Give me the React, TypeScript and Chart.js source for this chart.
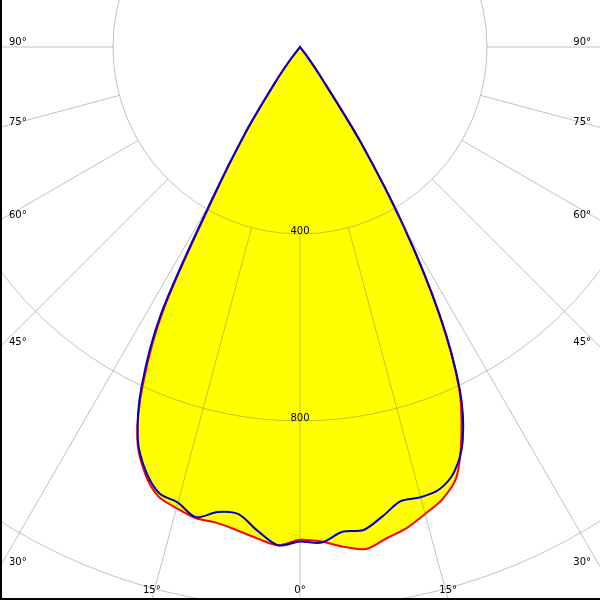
import React, { useEffect, useRef } from 'react';
import { Chart, registerables } from 'chart.js';

Chart.register(...registerables);

// Gamma angles (degrees from straight down) at which intensities were read
const GAMMA_DEG = [
  0, 2.5, 5, 7.5, 10, 12.5, 15, 17.5, 20, 22.5, 25, 27.5, 30, 32.5, 35, 37.5, 40,
  42.5, 45, 47.5, 50, 52.5, 55, 57.5, 60, 62.5, 65, 67.5, 70, 72.5, 75, 77.5, 80,
  82.5, 85, 87.5, 90,
];

// Red curve (C0 - C180 plane), cd
const RED_C180 = [
  1054, 1067, 1055, 1042, 1033, 1032, 1021, 1008, 970, 909, 795, 630, 365, 212, 92, 33, 0,
  0, 0, 0, 0, 0, 0, 0, 0, 0, 0, 0, 0, 0, 0, 0, 0, 0, 0, 0, 0,
];
const RED_C0 = [
  1054, 1059, 1073, 1083, 1067, 1054, 1034, 1014, 979, 902, 805, 645, 445, 240, 75, 22, 0,
  0, 0, 0, 0, 0, 0, 0, 0, 0, 0, 0, 0, 0, 0, 0, 0, 0, 0, 0, 0,
];

// Blue curve (C90 - C270 plane), cd
const BLUE_C270 = [
  1058, 1067, 1039, 1008, 1010, 1030, 1009, 1001, 965, 907, 802, 644, 378, 218, 95, 35, 0,
  0, 0, 0, 0, 0, 0, 0, 0, 0, 0, 0, 0, 0, 0, 0, 0, 0, 0, 0, 0,
];
const BLUE_C90 = [
  1058, 1061, 1041, 1042, 1019, 995, 997, 992, 966, 910, 809, 649, 447, 243, 72, 20, 0,
  0, 0, 0, 0, 0, 0, 0, 0, 0, 0, 0, 0, 0, 0, 0, 0, 0, 0, 0, 0,
];

const TICK_STEP = 400;
const R_MAX = 1600;
const EDGE_LABEL_DEG = [0, 15, 30, 45, 60, 75, 90];

const STEP = GAMMA_DEG[1] - GAMMA_DEG[0];
const N = Math.round(360 / STEP);
const HALF = GAMMA_DEG.length - 1;

const VIEW = 600;
const CANVAS = 1496;
const POLE_X = 300;
const POLE_Y = 47;

const GRID = 'rgba(110,110,110,0.42)';
const FONT = '10px "DejaVu Sans"';

function fullSeries(left: number[], right: number[]): number[] {
  const out: number[] = [];
  for (let i = 0; i < N; i++) {
    if (i <= HALF) out.push(left[i]);
    else if (i >= N - HALF) out.push(right[N - i]);
    else out.push(0);
  }
  return out;
}

const LABELS = Array.from({ length: N }, (_, i) => String(i * STEP));

const polarDecor = {
  id: 'polarDecor',
  afterDraw(chart: any) {
    const s = chart.scales.r;
    const ctx = chart.ctx as CanvasRenderingContext2D;
    const idxFor = (g: number, side: number) => {
      const k = Math.round(g / STEP);
      return side < 0 ? k : (N - k) % N;
    };
    const rInner = s.getDistanceFromCenterForValue(TICK_STEP);
    const rOuter = s.getDistanceFromCenterForValue(R_MAX);
    const xc = s.xCenter;
    const yc = s.yCenter;
    ctx.save();
    ctx.strokeStyle = GRID;
    ctx.lineWidth = 1;
    for (const side of [-1, 1]) {
      for (const g of EDGE_LABEL_DEG) {
        if (side > 0 && g === 0) continue;
        const i = idxFor(g, side);
        const a = s.getPointPosition(i, rInner);
        const b = s.getPointPosition(i, rOuter);
        ctx.beginPath();
        ctx.moveTo(a.x, a.y);
        ctx.lineTo(b.x, b.y);
        ctx.stroke();
      }
    }
    ctx.fillStyle = '#000';
    ctx.font = FONT;
    ctx.textAlign = 'center';
    ctx.textBaseline = 'alphabetic';
    for (const t of s.ticks) {
      if (t.value <= 0) continue;
      const p = s.getPointPositionForValue(0, t.value);
      ctx.fillText(String(t.value), p.x, p.y);
    }
    const x0 = xc - POLE_X;
    const y0 = yc - POLE_Y;
    const x1 = x0 + VIEW;
    const y1 = y0 + VIEW;
    for (const side of [-1, 1]) {
      for (const g of EDGE_LABEL_DEG) {
        if (side > 0 && g === 0) continue;
        const i = idxFor(g, side);
        const p = s.getPointPosition(i, rOuter);
        const dx = (p.x - xc) / rOuter;
        const dy = (p.y - yc) / rOuter;
        const tx = dx < -1e-6 ? (x0 - xc) / dx : dx > 1e-6 ? (x1 - xc) / dx : Infinity;
        const ty = dy > 1e-6 ? (y1 - yc) / dy : dy < -1e-6 ? (y0 - yc) / dy : Infinity;
        const text = `${g}°`;
        if (ty <= tx) {
          ctx.textAlign = 'center';
          ctx.fillText(text, xc + dx * ty, y1 - 7);
        } else {
          const ey = yc + dy * tx;
          if (dx < 0) {
            ctx.textAlign = 'left';
            ctx.fillText(text, x0 + 9, ey - 2);
          } else {
            ctx.textAlign = 'right';
            ctx.fillText(text, x1 - 9, ey - 2);
          }
        }
      }
    }
    ctx.restore();
  },
};

export default function App() {
  const ref = useRef<HTMLCanvasElement | null>(null);
  useEffect(() => {
    if (!ref.current) return;
    const chart = new Chart(ref.current, {
      type: 'radar',
      data: {
        labels: LABELS,
        datasets: [
          {
            label: 'C90 - C270',
            data: fullSeries(BLUE_C270, BLUE_C90),
            borderColor: '#0000CC',
            backgroundColor: '#FFFF00',
            borderWidth: 2,
            fill: true,
            pointRadius: 0,
          },
          {
            label: 'C0 - C180',
            data: fullSeries(RED_C180, RED_C0),
            borderColor: '#FF0000',
            backgroundColor: '#FFFF00',
            borderWidth: 2,
            fill: true,
            pointRadius: 0,
          },
        ],
      },
      options: {
        animation: false,
        responsive: false,
        events: [],
        layout: { padding: 0 },
        elements: { line: { tension: 0.3 }, point: { radius: 0 } },
        plugins: {
          legend: { display: false },
          tooltip: { enabled: false },
          filler: { drawTime: 'beforeDatasetsDraw' },
        },
        scales: {
          r: {
            min: 0,
            max: R_MAX,
            startAngle: 180,
            ticks: { display: false, stepSize: TICK_STEP, z: 1 },
            grid: { circular: true, color: GRID, lineWidth: 1, z: 1 },
            angleLines: { display: false },
            pointLabels: { display: false },
          },
        },
      } as any,
      plugins: [polarDecor],
    });
    return () => chart.destroy();
  }, []);
  return (
    <div
      style={{
        position: 'fixed',
        left: 0,
        top: 0,
        width: VIEW,
        height: VIEW,
        overflow: 'hidden',
        background: '#fff',
      }}
    >
      <canvas
        ref={ref}
        width={CANVAS}
        height={CANVAS}
        style={{
          position: 'absolute',
          left: POLE_X - CANVAS / 2,
          top: POLE_Y - CANVAS / 2,
          width: CANVAS,
          height: CANVAS,
        }}
      />
      <div style={{ position: 'absolute', left: 0, top: 0, width: 2, height: VIEW, background: '#000' }} />
      <div style={{ position: 'absolute', left: 0, bottom: 0, width: VIEW, height: 2, background: '#000' }} />
    </div>
  );
}
